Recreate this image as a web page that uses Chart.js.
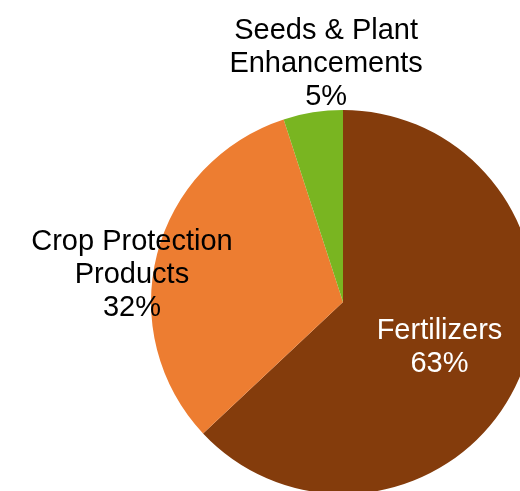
<!DOCTYPE html>
<html>
<head>
<meta charset="utf-8">
<script src="https://cdn.jsdelivr.net/npm/chart.js@4"></script>
<style>
  html, body { margin: 0; padding: 0; background: #fff; }
  #wrap { position: relative; width: 520px; height: 491px; overflow: hidden; }
  #box { position: absolute; left: 0; top: 0; width: 700px; height: 600px; }
</style>
</head>
<body>
<div id="wrap"><div id="box"><canvas id="chart"></canvas></div></div>
<script>
const categories = ['Fertilizers', 'Crop Protection Products', 'Seeds & Plant Enhancements'];
const shares = [63, 32, 5];
const labelLines = [['Fertilizers', '63%'], ['Crop Protection', 'Products', '32%'], ['Seeds & Plant', 'Enhancements', '5%']];

const colors = ['#843C0C', '#ED7D31', '#79B521'];
const textColors = ['#ffffff', '#000000', '#000000'];
// where each label block sits: angle from top (deg, clockwise), distance as share of radius
const labelPlace = [[114, 0.55], [278, 1.11], [356, 1.26]];

const sliceLabels = {
    id: 'sliceLabels',
    afterDatasetsDraw(c) {
        const ctx = c.ctx;
        const arcs = c.getDatasetMeta(0).data;
        ctx.save();
        ctx.font = '29px "Liberation Sans", Arial, sans-serif';
        ctx.textAlign = 'center';
        ctx.textBaseline = 'middle';
        const lh = 33;
        arcs.forEach((arc, i) => {
            const a = labelPlace[i][0] * Math.PI / 180;
            const d = labelPlace[i][1] * arc.outerRadius;
            const x = arc.x + Math.sin(a) * d;
            const y = arc.y - Math.cos(a) * d + 3;
            const lines = labelLines[i];
            ctx.fillStyle = textColors[i];
            lines.forEach((t, j) => {
                ctx.fillText(t, x, y + (j - (lines.length - 1) / 2) * lh);
            });
        });
        ctx.restore();
    }
};

new Chart(document.querySelector('#chart').getContext('2d'), {
    type: 'pie',
    data: {
        labels: categories,
        datasets: [{
            data: shares,
            backgroundColor: colors,
            borderWidth: 0
        }]
    },
    options: {
        responsive: true,
        maintainAspectRatio: false,
        animation: false,
        layout: { padding: { left: 151, top: 110, right: 165, bottom: 106 } },
        plugins: {
            legend: { display: false },
            tooltip: { enabled: false }
        }
    },
    plugins: [sliceLabels]
});
</script>
</body>
</html>
